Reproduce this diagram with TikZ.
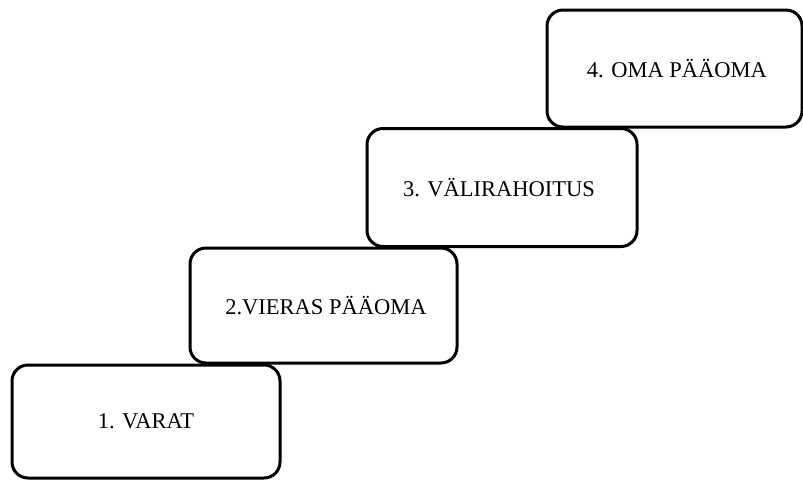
\documentclass[tikz,border=0pt]{standalone}
\usepackage{fontspec}
\setmainfont{Liberation Serif}
\newcommand{\shifttext}[3]{\raisebox{#2}{\hspace*{#1}#3}}
\begin{document}
\begin{tikzpicture}[x=1pt,y=-1pt,
  stepbox/.style={draw=black, fill=white, line width=3pt, rounded corners=16pt,
    inner sep=0pt, font=\fontsize{22.5}{26}\selectfont}]
\useasboundingbox (0,0) rectangle (803,480);
\node[stepbox, minimum width=268pt, minimum height=113pt] (b1) at (146,421.5) {\shifttext{0pt}{1pt}{1. VARAT}};
\node[stepbox, minimum width=267pt, minimum height=115pt] (b2) at (323.5,305.5) {\shifttext{5pt}{-2.5pt}{2.VIERAS PÄÄOMA}};
\node[stepbox, minimum width=270pt, minimum height=118pt] (b3) at (502,187.5) {\shifttext{0pt}{-2.5pt}{3. VÄLIRAHOITUS}\hspace*{6pt}};
\node[stepbox, minimum width=255pt, minimum height=117pt] (b4) at (674.5,68.5) {\shifttext{5pt}{-4pt}{4. OMA PÄÄOMA}};
\end{tikzpicture}
\end{document}
